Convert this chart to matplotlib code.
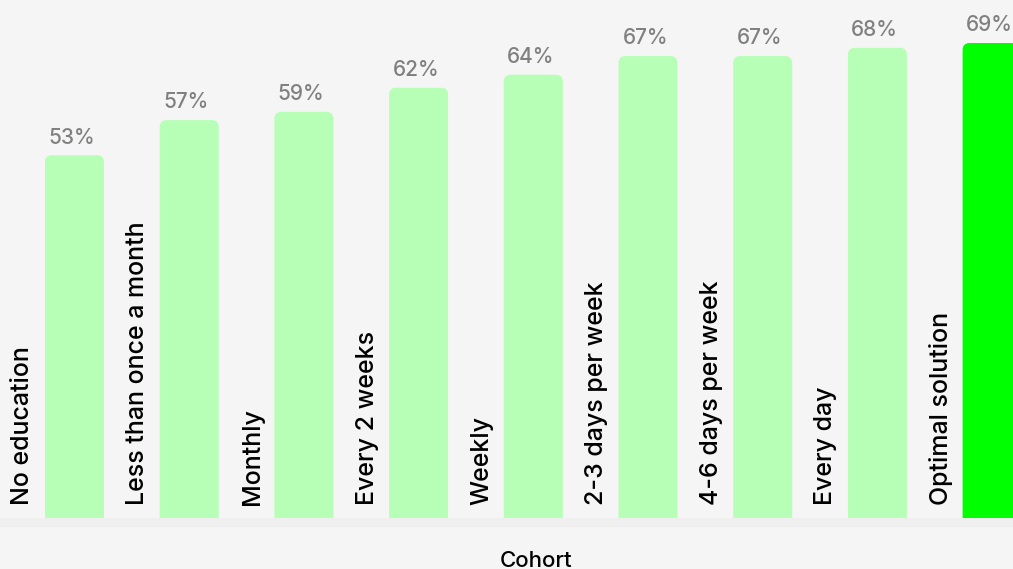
import matplotlib.pyplot as plt
from matplotlib.patches import FancyBboxPatch, Rectangle

plt.rcParams['font.family'] = ['Inter', 'DejaVu Sans']

cohorts = ["No education", "Less than once a month", "Monthly", "Every 2 weeks",
           "Weekly", "2-3 days per week", "4-6 days per week", "Every day",
           "Optimal solution"]
values = [52.7, 57.8, 59.0, 62.5, 64.4, 67.1, 67.1, 68.3, 69.0]
value_labels = ["53%", "57%", "59%", "62%", "64%", "67%", "67%", "68%", "69%"]

bg = "#f5f5f5"
light = "#b7ffb7"
bright = "#00ff00"

W, H = 1013, 569
fig = plt.figure(figsize=(W / 100, H / 100), dpi=100, facecolor=bg)
base_px = 518
ax = fig.add_axes([0, (H - base_px) / H, 1, base_px / H])
ax.set_facecolor(bg)

# band under the axis
fig.patches.append(Rectangle((0, (H - 527) / H), 1, 9 / H, transform=fig.transFigure,
                             facecolor="#efefef", edgecolor="none"))

slot = 114.7
x0 = 74.5
ax.set_xlim(-x0 / slot, (W - x0) / slot)
ppu = 475 / 69.0  # pixels per percent
ax.set_ylim(0, base_px / ppu)

bw = 59 / slot
r = 7 / slot
aspect = slot / ppu
for i, v in enumerate(values):
    c = bright if i == len(values) - 1 else light
    p = FancyBboxPatch((i - bw / 2, -5), bw, v + 5,
                       boxstyle=f"round,pad=0,rounding_size={r}",
                       mutation_aspect=aspect, facecolor=c, edgecolor="none")
    ax.add_patch(p)
    ax.annotate(value_labels[i], (i, v), xytext=(-2, 5.5), textcoords="offset points",
                ha="center", va="bottom", fontsize=15, fontweight="medium",
                color="#808080")
    ax.text(i - (x0 - 23) / slot, 13 / ppu, cohorts[i], rotation=90,
            ha="center", va="bottom", fontsize=18, fontweight="medium", color="black")

for s in ax.spines.values():
    s.set_visible(False)
ax.set_xticks([])
ax.set_yticks([])

fig.text(536 / W, 1 - 567 / H, "Cohort", ha="center", va="baseline", fontsize=16,
         fontweight="medium", color="black")

fig.savefig("out.png", dpi=100, facecolor=bg)
